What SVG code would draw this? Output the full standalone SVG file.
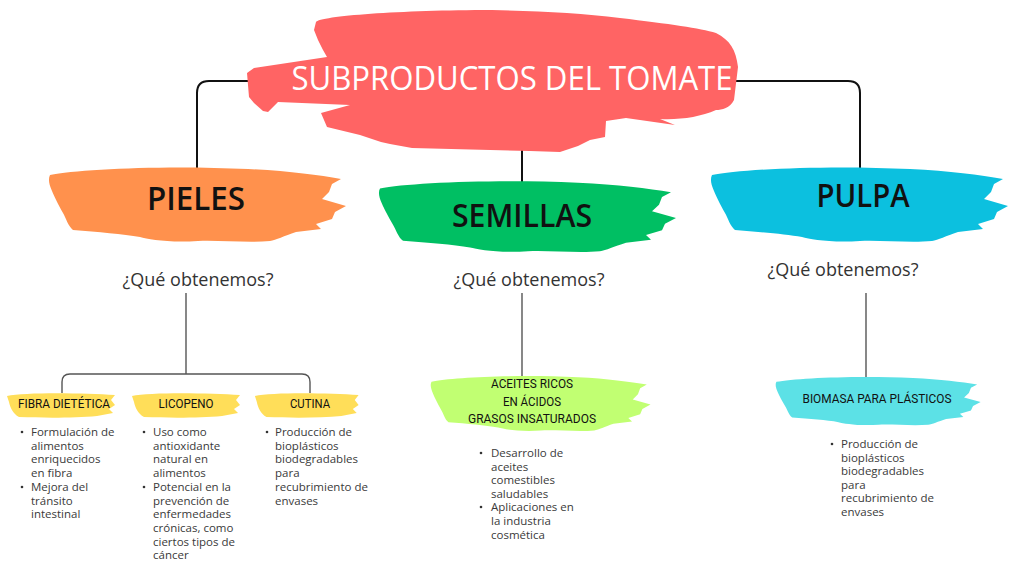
<svg xmlns="http://www.w3.org/2000/svg" width="1024" height="570" viewBox="0 0 1024 570">
<style>
.conn{fill:none;stroke:#111;stroke-width:2}
.conn2{fill:none;stroke:#555;stroke-width:1.4}
.t1{font-family:"Open Sans","Liberation Sans",sans-serif;font-size:32px;fill:#fff;text-anchor:middle}
.t2{font-family:"Open Sans","Liberation Sans",sans-serif;font-size:32px;fill:#111;text-anchor:middle;font-weight:600}
.q{font-family:"Open Sans","Liberation Sans",sans-serif;font-size:18px;fill:#333;text-anchor:middle}
.t3{font-family:Roboto,"Liberation Sans",sans-serif;font-size:13px;fill:#111;text-anchor:middle}
.b{font-family:"Open Sans","Liberation Sans",sans-serif;font-size:11.5px;fill:#3a3a3a}
.dot{fill:#333}
</style>
<defs>
<path id="brush" d="M2,9 C30,3 120,-1 200,3 C240,5 270,9 293,13 L284,18 L281,26 L274,33 L298,40 L287,46 L284,53 L268,58 L273,63 L248,66 C236,70 228,74 222,75 C200,77 170,74 150,75 C120,77 100,73 92,71 C75,68 50,66 25,64 C20,60 18,52 15,47 C10,38 6,30 4,25 C1,18 0,13 2,9 Z"/>
<path id="sbrush" d="M2,4 C20,0 80,1 110,3 L106,8 L110,13 L104,17 L108,21 L92,24 C70,26 40,26 14,25 C8,22 5,15 4,10 Z"/>
</defs>
<rect width="1024" height="570" fill="#fff"/>
<g id="connectors">
<path class="conn" d="M260,81 H209 Q197,81 197,93 V172"/>
<path class="conn" d="M730,81 H848 Q860,81 860,93 V172"/>
<path class="conn" d="M522,140 V184"/>
<path class="conn2" d="M186,293 V374"/>
<path class="conn2" d="M62,393 V382 Q62,374 70,374 H302 Q310,374 310,382 V393"/>
<path class="conn2" d="M522,293 V378"/>
<path class="conn2" d="M866,293 V380"/>
</g>
<g id="title">
<path fill="#FF6464" d="M316,22 C320,16 400,10 492,10 C540,11 582,13 620,18 C670,24 700,28 716,33 C730,40 736,50 738,67 L734,100 C730,108 722,110 716,110 C700,117 680,120 660,119 L675,125 L626,118 L606,121 L605,137 L590,140 L578,146 L560,152 L530,151 L412,148 L390,144 L381,142 L360,135 L327,127 L321,113 L350,105 L278,102 L268,112 L263,111 L254,103 L249,97 L247,73 L254,68 L327,57 L323,50 L318,40 L314,30 Z"/>
<text class="t1" x="512" y="90" textLength="441" lengthAdjust="spacingAndGlyphs">SUBPRODUCTOS DEL TOMATE</text>
</g>
<g id="pieles">
<use href="#brush" transform="translate(48,166)" fill="#FF914D"/>
<text class="t2" x="196" y="210" textLength="98" lengthAdjust="spacingAndGlyphs">PIELES</text>
<text class="q" x="198" y="286">¿Qué obtenemos?</text>
</g>
<g id="semillas">
<use href="#brush" transform="translate(378,180) scale(1,0.95)" fill="#00BF63"/>
<text class="t2" x="522" y="227" textLength="140" lengthAdjust="spacingAndGlyphs">SEMILLAS</text>
<text class="q" x="529" y="286">¿Qué obtenemos?</text>
</g>
<g id="pulpa">
<use href="#brush" transform="translate(710,166)" fill="#0CC0DF"/>
<text class="t2" x="863" y="207" textLength="93" lengthAdjust="spacingAndGlyphs">PULPA</text>
<text class="q" x="843" y="276">¿Qué obtenemos?</text>
</g>
<g id="fibra">
<use href="#sbrush" transform="translate(5,392)" fill="#FFDE59"/>
<text class="t3" x="64" y="408" textLength="92" lengthAdjust="spacingAndGlyphs">FIBRA DIETÉTICA</text>
<circle class="dot" cx="22" cy="432" r="1.3"/>
<circle class="dot" cx="22" cy="487" r="1.3"/>
<text class="b" x="31" y="436">Formulación de<tspan x="31" dy="13.7">alimentos</tspan><tspan x="31" dy="13.7">enriquecidos</tspan><tspan x="31" dy="13.7">en fibra</tspan><tspan x="31" dy="13.7">Mejora del</tspan><tspan x="31" dy="13.7">tránsito</tspan><tspan x="31" dy="13.7">intestinal</tspan></text>
</g>
<g id="licopeno">
<use href="#sbrush" transform="translate(130,392)" fill="#FFDE59"/>
<text class="t3" x="186" y="408" textLength="55" lengthAdjust="spacingAndGlyphs">LICOPENO</text>
<circle class="dot" cx="144" cy="432" r="1.3"/>
<circle class="dot" cx="144" cy="487" r="1.3"/>
<text class="b" x="153" y="436">Uso como<tspan x="153" dy="13.7">antioxidante</tspan><tspan x="153" dy="13.7">natural en</tspan><tspan x="153" dy="13.7">alimentos</tspan><tspan x="153" dy="13.7">Potencial en la</tspan><tspan x="153" dy="13.7">prevención de</tspan><tspan x="153" dy="13.7">enfermedades</tspan><tspan x="153" dy="13.7">crónicas, como</tspan><tspan x="153" dy="13.7">ciertos tipos de</tspan><tspan x="153" dy="13.7">cáncer</tspan></text>
</g>
<g id="cutina">
<use href="#sbrush" transform="translate(253,392) scale(0.96,1)" fill="#FFDE59"/>
<text class="t3" x="310" y="408" textLength="40" lengthAdjust="spacingAndGlyphs">CUTINA</text>
<circle class="dot" cx="267" cy="432" r="1.3"/>
<text class="b" x="275" y="436">Producción de<tspan x="275" dy="13.7">bioplásticos</tspan><tspan x="275" dy="13.7">biodegradables</tspan><tspan x="275" dy="13.7">para</tspan><tspan x="275" dy="13.7">recubrimiento de</tspan><tspan x="275" dy="13.7">envases</tspan></text>
</g>
<g id="aceites">
<use href="#brush" transform="translate(430,375) scale(0.74,0.74)" fill="#C1FF72"/>
<text class="t3" x="532" y="388" textLength="82" lengthAdjust="spacingAndGlyphs">ACEITES RICOS</text>
<text class="t3" x="532" y="406" textLength="58" lengthAdjust="spacingAndGlyphs">EN ÁCIDOS</text>
<text class="t3" x="532" y="423" textLength="128" lengthAdjust="spacingAndGlyphs">GRASOS INSATURADOS</text>
<circle class="dot" cx="481" cy="453" r="1.3"/>
<circle class="dot" cx="481" cy="507" r="1.3"/>
<text class="b" x="491" y="457">Desarrollo de<tspan x="491" dy="13.6">aceites</tspan><tspan x="491" dy="13.6">comestibles</tspan><tspan x="491" dy="13.6">saludables</tspan><tspan x="491" dy="13.6">Aplicaciones en</tspan><tspan x="491" dy="13.6">la industria</tspan><tspan x="491" dy="13.6">cosmética</tspan></text>
</g>
<g id="biomasa">
<use href="#brush" transform="translate(775,376) scale(0.69,0.65)" fill="#5CE1E6"/>
<text class="t3" x="877" y="403" textLength="149" lengthAdjust="spacingAndGlyphs">BIOMASA PARA PLÁSTICOS</text>
<circle class="dot" cx="832" cy="444" r="1.3"/>
<text class="b" x="841" y="448">Producción de<tspan x="841" dy="13.5">bioplásticos</tspan><tspan x="841" dy="13.5">biodegradables</tspan><tspan x="841" dy="13.5">para</tspan><tspan x="841" dy="13.5">recubrimiento de</tspan><tspan x="841" dy="13.5">envases</tspan></text>
</g>
</svg>
